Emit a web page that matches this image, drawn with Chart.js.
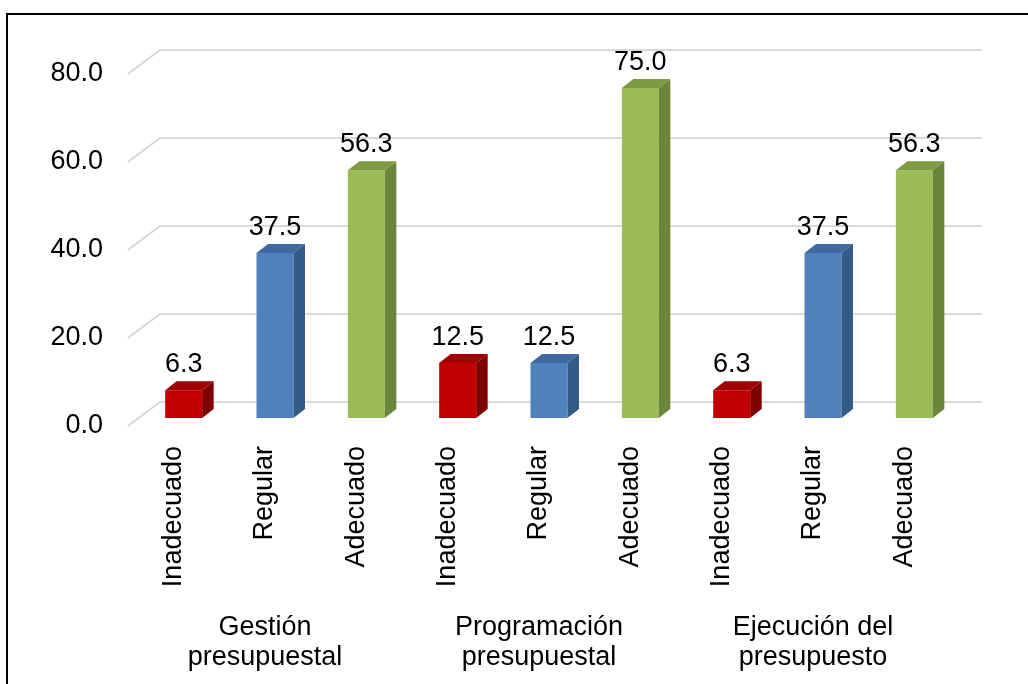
<!DOCTYPE html>
<html lang="es">
<head>
    <meta charset="UTF-8">
    <title>Presupuesto</title>
    <script src="https://cdn.jsdelivr.net/npm/chart.js@4"></script>
    <style>
        body { margin: 0; overflow: hidden; background: #fff; }
        #frame {
            position: absolute; left: 6px; top: 13px;
            width: 1100px; height: 800px;
            border: 2px solid #000; pointer-events: none;
        }
        canvas { position: absolute; left: 0; top: 0; }
    </style>

    <script type="text/javascript">
        // valores
        var categorias = ['Inadecuado', 'Regular', 'Adecuado',
                          'Inadecuado', 'Regular', 'Adecuado',
                          'Inadecuado', 'Regular', 'Adecuado'];
        var valores = [6.3, 37.5, 56.3, 12.5, 12.5, 75.0, 6.3, 37.5, 56.3];
        var grupos = [['Gestión', 'presupuestal'],
                      ['Programación', 'presupuestal'],
                      ['Ejecución del', 'presupuesto']];
        var ticksY = [0, 20, 40, 60, 80];

        // colores: frente, techo, costado
        var colores = {
            'Inadecuado': ['#C00000', '#A20000', '#7E0000'],
            'Regular': ['#4F81BD', '#3E6AA0', '#345A88'],
            'Adecuado': ['#9BBB59', '#7E9B44', '#6A8638']
        };

        var FUENTE = '"Liberation Sans", Arial, sans-serif';
        var PROF_X = 32, PROF_Y = 24;   // profundidad de la pared
        var BAR_X = 10, BAR_Y = 8;      // desplazamiento de la cara frontal
        var LADO_X = 11.5, LADO_Y = 9;  // grosor de la barra

        var barras3d = {
            id: 'barras3d',
            beforeDatasetsDraw: function(chart) {
                var ctx = chart.ctx;
                var y = chart.scales.y;
                var area = chart.chartArea;
                ctx.save();
                ctx.strokeStyle = '#D9D9D9';
                ctx.lineWidth = 2;
                ticksY.forEach(function(v) {
                    var py = y.getPixelForValue(v);
                    ctx.beginPath();
                    ctx.moveTo(area.left, py);
                    ctx.lineTo(area.left + PROF_X, py - PROF_Y);
                    ctx.lineTo(area.right + PROF_X, py - PROF_Y);
                    ctx.stroke();
                });
                ctx.restore();
                ctx.save();
                ctx.translate(BAR_X, -BAR_Y);
            },
            afterDatasetsDraw: function(chart) {
                var ctx = chart.ctx;
                var meta = chart.getDatasetMeta(0);
                meta.data.forEach(function(bar, i) {
                    var c = colores[categorias[i]];
                    var l = bar.x - bar.width / 2, r = bar.x + bar.width / 2;
                    var t = bar.y, b = bar.base;
                    ctx.fillStyle = c[1];
                    ctx.beginPath();
                    ctx.moveTo(l, t);
                    ctx.lineTo(l + LADO_X, t - LADO_Y);
                    ctx.lineTo(r + LADO_X, t - LADO_Y);
                    ctx.lineTo(r, t);
                    ctx.closePath();
                    ctx.fill();
                    ctx.fillStyle = c[2];
                    ctx.beginPath();
                    ctx.moveTo(r, t);
                    ctx.lineTo(r + LADO_X, t - LADO_Y);
                    ctx.lineTo(r + LADO_X, b - LADO_Y);
                    ctx.lineTo(r, b);
                    ctx.closePath();
                    ctx.fill();
                });
                ctx.restore();

                // etiquetas de datos
                ctx.save();
                ctx.fillStyle = '#000';
                ctx.font = '27px ' + FUENTE;
                ctx.textAlign = 'center';
                ctx.textBaseline = 'alphabetic';
                meta.data.forEach(function(bar, i) {
                    ctx.fillText(valores[i].toFixed(1), bar.x + BAR_X, bar.y - BAR_Y - 18);
                });
                ctx.restore();
            },
            afterDraw: function(chart) {
                var ctx = chart.ctx;
                var x = chart.scales.x;
                ctx.save();
                ctx.fillStyle = '#000';
                ctx.font = '27px ' + FUENTE;
                ctx.textAlign = 'center';
                grupos.forEach(function(g, k) {
                    var px = x.getPixelForValue(k * 3 + 1);
                    g.forEach(function(linea, j) {
                        ctx.fillText(linea, px, 635 + j * 30);
                    });
                });
                ctx.restore();
            }
        };

        window.onload = function() {
            var ctx = document.getElementById('grafico').getContext('2d');
            new Chart(ctx, {
                type: 'bar',
                data: {
                    labels: categorias,
                    datasets: [{
                        data: valores,
                        backgroundColor: categorias.map(function(c) { return colores[c][0]; }),
                        categoryPercentage: 1,
                        barPercentage: 0.405,
                        clip: false
                    }]
                },
                options: {
                    responsive: false,
                    animation: false,
                    layout: { padding: { top: 74, right: 78, left: 0, bottom: 0 } },
                    plugins: {
                        legend: { display: false },
                        tooltip: { enabled: false }
                    },
                    scales: {
                        x: {
                            grid: { display: false, drawTicks: false },
                            border: { display: false },
                            ticks: {
                                color: '#000',
                                font: { family: FUENTE, size: 27 },
                                minRotation: 90, maxRotation: 90,
                                padding: 20,
                                autoSkip: false
                            },
                            afterFit: function(s) { s.height = 258; }
                        },
                        y: {
                            min: 0, max: 80,
                            grid: { display: false, drawTicks: false },
                            border: { display: false },
                            ticks: {
                                stepSize: 20,
                                color: '#000',
                                font: { family: FUENTE, size: 27 },
                                padding: 25,
                                callback: function(v) { return v.toFixed(1); }
                            },
                            afterFit: function(s) { s.width = 128; }
                        }
                    }
                },
                plugins: [barras3d]
            });
        };
    </script>
</head>
<body>
    <canvas id="grafico" width="1028" height="684"></canvas>
    <div id="frame"></div>
</body>
</html>
